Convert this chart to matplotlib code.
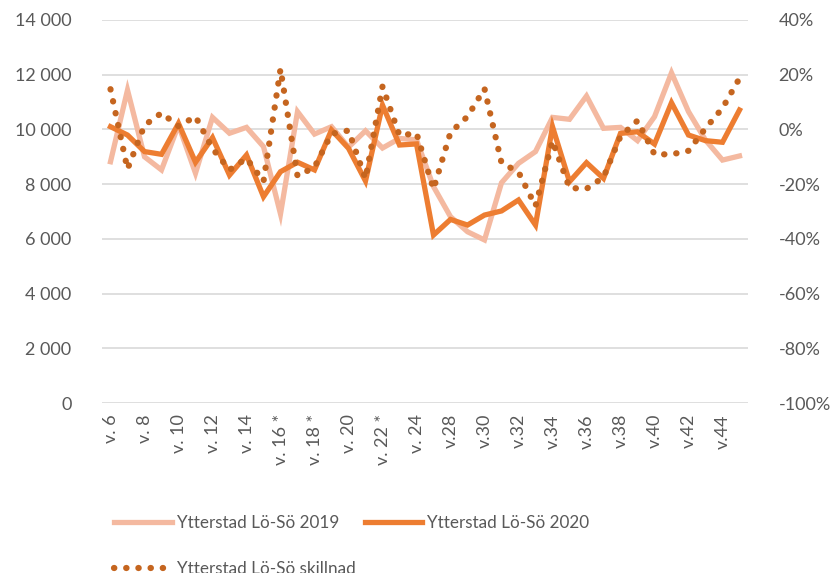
import matplotlib
matplotlib.use("Agg")
import matplotlib.pyplot as plt
from matplotlib.ticker import FuncFormatter, MultipleLocator

weeks = ["v. 6", "v. 7", "v. 8", "v. 9", "v. 10", "v. 11", "v. 12", "v. 13",
         "v. 14", "v. 15", "v. 16 *", "v. 17", "v. 18 *", "v. 19", "v. 20",
         "v. 21", "v. 22 *", "v. 23", "v. 24", "v. 25", "v.28", "v.29", "v.30",
         "v.31", "v.32", "v.33", "v.34", "v.35", "v.36", "v.37", "v.38", "v.39",
         "v.40", "v.41", "v.42", "v.43", "v.44", "v.45"]

y2019 = [8820, 11440, 9000, 8520, 10160, 8400, 10440, 9860, 10075, 9370,
         6910, 10650, 9830, 10100, 9350, 9950, 9320, 9670, 9620, 7910,
         6810, 6260, 5960, 8050, 8760, 9190, 10440, 10370, 11220, 10040,
         10075, 9590, 10465, 12070, 10650, 9610, 8880, 9030]

y2020 = [10100, 9795, 9190, 9090, 10220, 8800, 9700, 8330, 9065, 7540,
         8455, 8800, 8520, 9980, 9310, 8115, 10890, 9430, 9470, 6140,
         6710, 6505, 6870, 7020, 7420, 6505, 10100, 8090, 8785, 8210,
         9855, 9915, 9465, 10975, 9795, 9590, 9530, 10710]

skillnad = [0.147, -0.145, 0.015, 0.060, 0.012, 0.047, -0.070, -0.148, -0.106, -0.190,
            0.221, -0.170, -0.138, -0.016, -0.004, -0.180, 0.157, -0.022, -0.014, -0.218,
            -0.011, 0.047, 0.149, -0.122, -0.156, -0.280, -0.042, -0.214, -0.217, -0.175,
            -0.025, 0.032, -0.091, -0.091, -0.078, 0.004, 0.078, 0.187]

plt.rcParams['font.family'] = ['Lato', 'DejaVu Sans']
tick_color = "#595959"
fs = 13

fig = plt.figure(figsize=(8.33, 5.73), dpi=100)
ax = fig.add_axes([102/833, 1-403/573, (748-102)/833, (403-20)/573])
x = list(range(len(weeks)))

l1, = ax.plot(x, y2019, color="#F4B9A0", lw=3.8, solid_joinstyle='miter', label="Ytterstad Lö-Sö 2019", zorder=2)
l2, = ax.plot(x, y2020, color="#ED7D31", lw=3.8, solid_joinstyle='miter', label="Ytterstad Lö-Sö 2020", zorder=3)

ax.set_xlim(-0.5, len(weeks)-0.5)
ax.set_ylim(0, 14000)
ax.yaxis.set_major_locator(MultipleLocator(2000))
ax.yaxis.set_major_formatter(FuncFormatter(lambda v, p: f"{int(v):,}".replace(",", " ")))
ax.set_xticks(x)
ax.set_xticklabels([w if i % 2 == 0 else "" for i, w in enumerate(weeks)], rotation=90)
ax.grid(axis='y', color="#D9D9D9", lw=1.2)
ax.set_axisbelow(True)
for s in ax.spines.values():
    s.set_visible(False)
ax.tick_params(axis='x', length=0, pad=8, labelsize=fs, labelcolor=tick_color)
ax.tick_params(axis='y', length=0, pad=22, labelsize=fs, labelcolor=tick_color)

ax2 = ax.twinx()
l3, = ax2.plot(x, skillnad, color="#C5651F", lw=4.5, linestyle=(0, (0.05, 1.9)),
               dash_capstyle='round', label="Ytterstad Lö-Sö skillnad", zorder=4)
ax2.set_ylim(-1.0, 0.4)
ax2.yaxis.set_major_locator(MultipleLocator(0.2))
ax2.yaxis.set_major_formatter(FuncFormatter(lambda v, p: f"{round(v*100):d}%"))
for s in ax2.spines.values():
    s.set_visible(False)
ax2.tick_params(axis='y', length=0, pad=22, labelsize=fs, labelcolor=tick_color)

leg = fig.legend([l1, l3, l2], [l1.get_label(), l3.get_label(), l2.get_label()],
                 ncol=2, loc='upper left', bbox_to_anchor=(99/833, 1-500/573),
                 frameon=False, fontsize=12.3, handlelength=3.35, handletextpad=0.3,
                 columnspacing=0.55, labelspacing=1.75, labelcolor=tick_color)

fig.savefig("out.png", dpi=100)
